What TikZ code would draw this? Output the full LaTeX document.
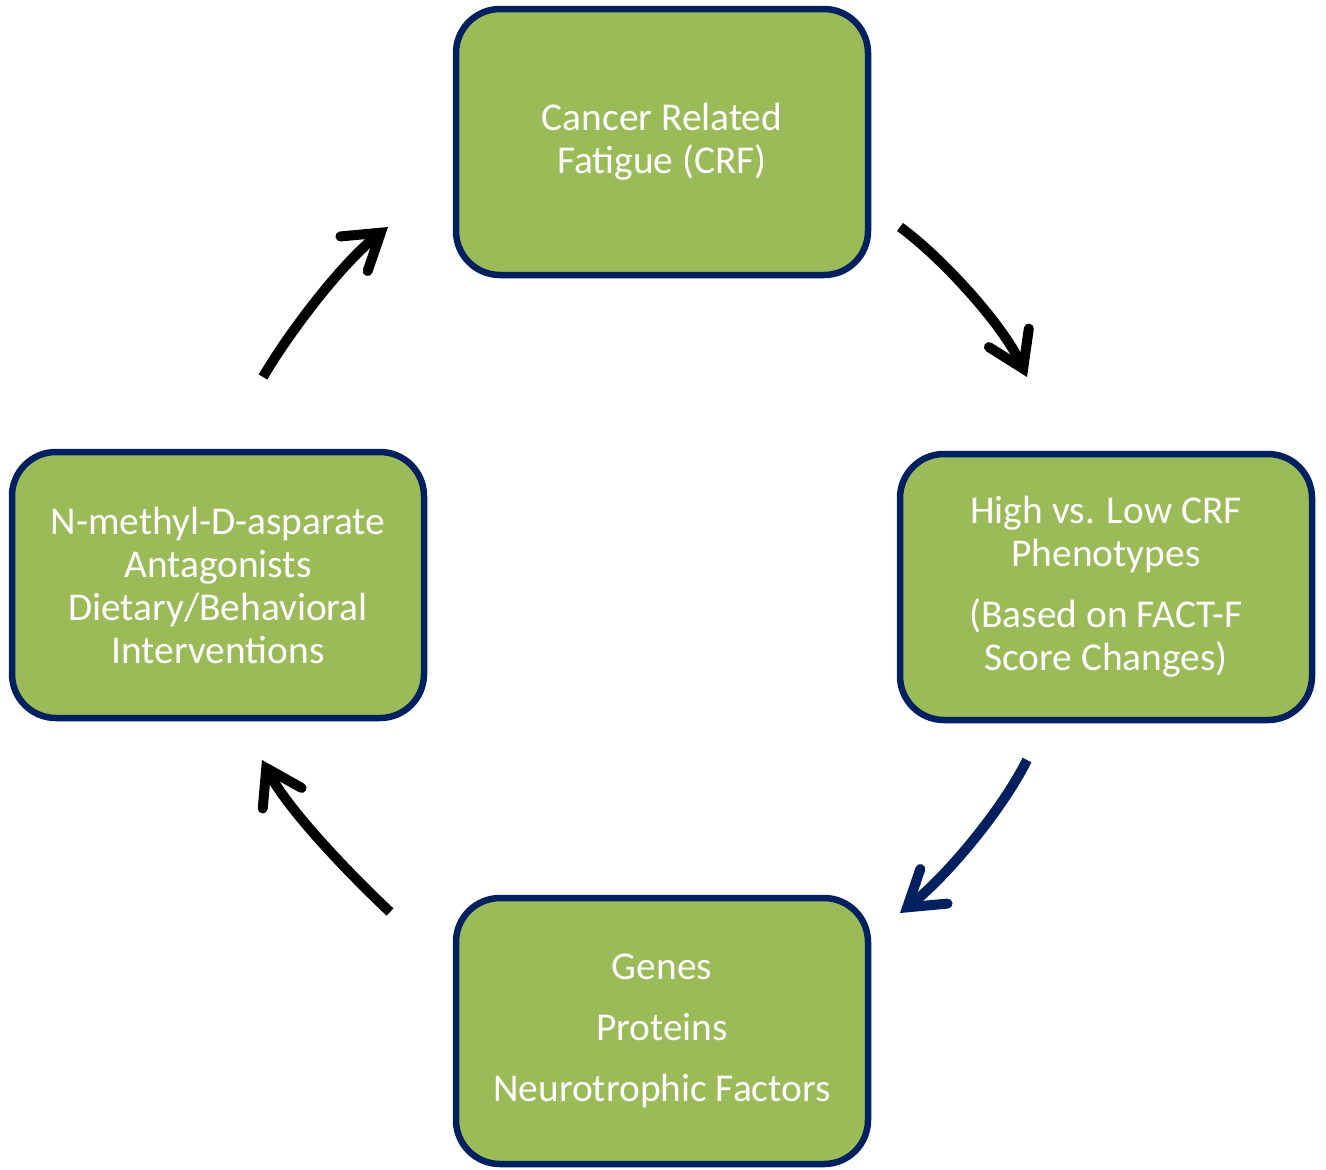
\documentclass[tikz,border=0pt]{standalone}
\usepackage{fontspec}
\setmainfont{Carlito}
\usetikzlibrary{arrows.meta}
\definecolor{boxgreen}{HTML}{9BBB59}
\definecolor{navy}{HTML}{002060}
\begin{document}
\begin{tikzpicture}[x=0.5pt,y=-0.5pt,
  stagebox/.style={draw=navy, fill=boxgreen, line width=3.25pt,
    rounded corners=22pt, minimum width=206pt, minimum height=133pt,
    align=center, text=white, inner sep=0pt,
    font=\fontsize{19.7}{21.5}\selectfont},
  cyclearrow/.style={line width=5pt,
    -{Straight Barb[length=17pt,width=22pt,line cap=round,line join=miter]}}]
\useasboundingbox (0,0) rectangle (1326,1169);

% the four stages of the cycle
\node[stagebox] (crf) at (662,142) {Cancer Related\\Fatigue (CRF)};
\node[stagebox] (pheno) at (1106,587) {High vs. Low CRF\\Phenotypes\\[9pt](Based on FACT-F\\Score Changes)};
\node[stagebox] (genes) at (662,1031) {Genes\\[9pt]Proteins\\[9pt]Neurotrophic Factors};
\node[stagebox] (nmda) at (218,585) {N-methyl-D-asparate\\Antagonists\\Dietary/Behavioral\\Interventions};

% arrow end points between the stages
\coordinate (a1s) at (900,227);  \coordinate (a1e) at (1027,377);
\coordinate (a2s) at (1027,760); \coordinate (a2e) at (900,913);
\coordinate (a3s) at (390,912);  \coordinate (a3e) at (262,760);
\coordinate (a4s) at (263,377);  \coordinate (a4e) at (388,227);

\draw[cyclearrow] (a1s) .. controls (940,256) and (1002,323) .. (a1e);
\draw[cyclearrow, draw=navy] (a2s) .. controls (1002,810) and (947,876) .. (a2e);
\draw[cyclearrow] (a3s) .. controls (354,878) and (290,813) .. (a3e);
\draw[cyclearrow] (a4s) .. controls (288,334) and (341,264) .. (a4e);
\end{tikzpicture}
\end{document}
